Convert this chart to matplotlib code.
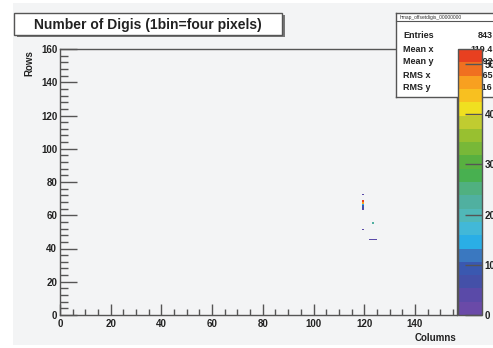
"""ROOT-style COLZ map of digi counts per 4-pixel bin."""

import matplotlib

matplotlib.use("Agg")
import matplotlib.pyplot as plt
import numpy as np
from matplotlib.colors import BoundaryNorm, ListedColormap
from matplotlib.patches import Rectangle

W, H = 493, 348

# ── data (filled bins only; everything else is empty) ─────────────────────────
bin_col = [119, 119, 119, 119, 119, 119, 119, 119, 123, 122, 123, 124]
bin_row = [72, 68, 67, 66, 65, 64, 63, 51, 55, 45, 45, 45]
bin_val = [4, 53, 46, 14, 9, 7, 5, 4, 22, 3, 3, 3]

x_ticks = [0, 20, 40, 60, 80, 100, 120, 140]
y_ticks = [0, 20, 40, 60, 80, 100, 120, 140, 160]
z_ticks = [0, 10, 20, 30, 40, 50]
z_max = 53

stats_names = ["Entries", "Mean x", "Mean y", "RMS x", "RMS y"]
stats_values = ["843", "119.4", "60.92", "1.565", "8.316"]

palette = [
    "#6a4aa8", "#5a4aa8", "#4450a8", "#3a58b0", "#3a78c0",
    "#2aaee6", "#42b8d8", "#50b8b8", "#50b0a0", "#50b080",
    "#48b050", "#58b040", "#78b838", "#98c030", "#c0cc30",
    "#f0e020", "#f8c020", "#f8a020", "#f07020", "#e84020",
]

pad_color = "#f3f4f5"
line_color = "#555555"
font = ["Liberation Sans", "DejaVu Sans"]


def px(x, y):
    """Pixel position (from top-left) -> figure fraction."""
    return x / W, 1 - y / H


fig = plt.figure(figsize=(W / 100, H / 100), dpi=100)
fig.patch.set_facecolor("white")
fig.patches.append(Rectangle(px(13, 345), 480 / W, 342 / H,
                             transform=fig.transFigure, facecolor=pad_color,
                             edgecolor="none", zorder=-10))

# ── main frame ────────────────────────────────────────────────────────────────
ax = fig.add_axes([60 / W, 33 / H, 397 / W, 266 / H], zorder=0)
ax.set_facecolor(pad_color)

counts = np.zeros((160, 157))
for c, r, v in zip(bin_col, bin_row, bin_val):
    counts[r, c] = v
counts = np.ma.masked_equal(counts, 0)

cmap = ListedColormap(palette)
norm = BoundaryNorm(np.linspace(0, z_max, len(palette) + 1), cmap.N)
mesh = ax.pcolormesh(np.arange(158), np.arange(161), counts,
                     cmap=cmap, norm=norm)
ax.set_xlim(0, 156.6)
ax.set_ylim(0, 160)

ax.set_xticks(x_ticks)
ax.set_yticks(y_ticks)
ax.set_xticks(np.arange(0, 157, 5), minor=True)
ax.set_yticks(np.arange(0, 161, 4), minor=True)
ax.tick_params(axis="x", which="major", direction="in", length=8, width=1,
               color=line_color, pad=3)
ax.tick_params(axis="x", which="minor", direction="in", length=4, width=1,
               color=line_color)
ax.tick_params(axis="y", which="major", direction="in", length=12, width=1,
               color=line_color, pad=2)
ax.tick_params(axis="y", which="minor", direction="in", length=6, width=1,
               color=line_color)
for lbl in ax.get_xticklabels() + ax.get_yticklabels():
    lbl.set_family(font)
    lbl.set_fontsize(7)
    lbl.set_fontweight("bold")
    lbl.set_color("#222222")
for sp in ax.spines.values():
    sp.set_color(line_color)
    sp.set_linewidth(1)

fig.text(*px(456, 338), "Columns", ha="right", va="center", fontsize=7,
         fontweight="bold", family=font, color="#222222")
fig.text(*px(29, 50), "Rows", ha="center", va="top", rotation=90,
         fontsize=7, fontweight="bold", family=font, color="#222222")

# ── title box with shadow ─────────────────────────────────────────────────────
fig.patches.append(Rectangle(px(17, 37), 268 / W, 22 / H,
                             transform=fig.transFigure, facecolor="#777777",
                             edgecolor="none", zorder=1))
fig.patches.append(Rectangle(px(14, 35), 268 / W, 22 / H,
                             transform=fig.transFigure, facecolor="white",
                             edgecolor=line_color, linewidth=1, zorder=1.1))
fig.text(*px(148, 24.5), "Number of Digis (1bin=four pixels)", ha="center",
         va="center", fontsize=10, fontweight="bold", family=font,
         color="#222222", zorder=3)

# ── stats box (under the palette) ─────────────────────────────────────────────
ax_st = fig.add_axes([396 / W, (H - 97) / H, 110 / W, 84 / H], zorder=1)
ax_st.set_facecolor("white")
ax_st.set_xticks([])
ax_st.set_yticks([])
for sp in ax_st.spines.values():
    sp.set_color(line_color)
    sp.set_linewidth(1)
ax_st.plot(*zip(px(396, 21), px(500, 21)), transform=fig.transFigure,
           color=line_color, linewidth=0.8, clip_on=False)
ax_st.text(*px(400, 17), "hmap_offsetdigis_00000000", transform=fig.transFigure,
           ha="left", va="center", fontsize=3.5, family=font, color="#333333")
for i, (name, val) in enumerate(zip(stats_names, stats_values)):
    y = 36 + 13 * i
    ax_st.text(*px(403, y), name, transform=fig.transFigure, ha="left",
               va="center", fontsize=6.5, fontweight="bold", family=font,
               color="#222222")
    ax_st.text(*px(493, y), val, transform=fig.transFigure, ha="right",
               va="center", fontsize=6.5, fontweight="bold", family=font,
               color="#222222")

# ── palette ───────────────────────────────────────────────────────────────────
cax = fig.add_axes([458 / W, 33 / H, 24 / W, 266 / H], zorder=2)
cb = fig.colorbar(mesh, cax=cax, ticks=z_ticks)
cb.outline.set_edgecolor(line_color)
cb.outline.set_linewidth(1)
cax.yaxis.set_ticks_position("right")
cax.tick_params(axis="y", which="major", direction="in", length=12, width=1,
                color=line_color, pad=2)
cax.minorticks_off()
for lbl in cax.get_yticklabels():
    lbl.set_family(font)
    lbl.set_fontsize(7)
    lbl.set_fontweight("bold")
    lbl.set_color("#222222")

fig.savefig("out.png", dpi=100, facecolor=fig.get_facecolor())
